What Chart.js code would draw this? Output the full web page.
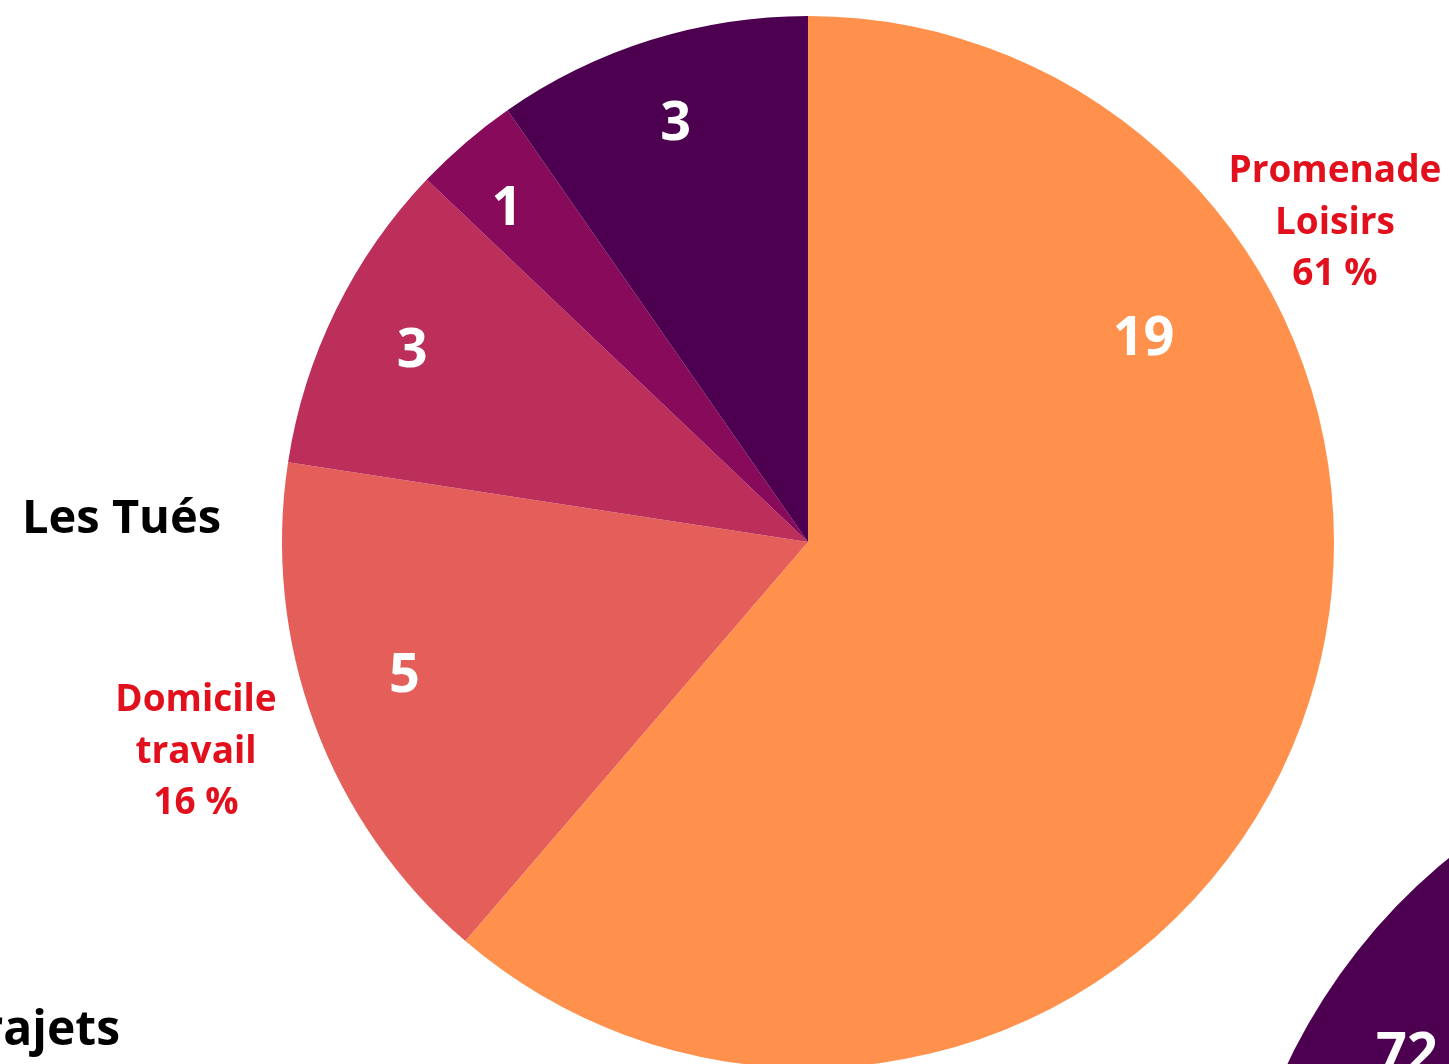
<!DOCTYPE html>
<html lang="fr">
<head>
<meta charset="utf-8">
<title>Les Tués</title>
<script src="https://cdn.jsdelivr.net/npm/chart.js@4"></script>
<style>
  html, body { margin: 0; padding: 0; background: #fff; overflow: hidden; width: 1449px; height: 1064px; }
  body { position: relative; font-family: "Open Sans", sans-serif; }
  #tues { position: absolute; left: 0; top: 0; }
  #trajets { position: absolute; left: 1229px; top: 722px; }
  .title { position: absolute; font-weight: 700; font-size: 47px; color: #000; white-space: nowrap; line-height: 1; }
  #t1 { left: 22px; top: 492px; }
  #t2 { right: 1329px; top: 1003px; font-size: 48px; }
</style>
</head>
<body>
<canvas id="tues" width="1449" height="1100"></canvas>
<canvas id="trajets" width="1200" height="1200"></canvas>
<div class="title" id="t1">Les Tués</div>
<div class="title" id="t2">Trajets</div>
<script>
// Les Tués : motif du déplacement
const motifs = ['Promenade Loisirs', 'Domicile travail', 'Motif 3', 'Motif 4', 'Motif 5'];
const tues = [19, 5, 3, 1, 3];
const couleurs = ['#FF914D', '#E45F5A', '#BC2F5B', '#870A5B', '#4D0050'];
// étiquettes rouges à l'extérieur (null = pas d'étiquette)
const etiquettes = [['Promenade', 'Loisirs'], ['Domicile', 'travail'], null, null, null];

// Trajets (seule la part visible)
const trajetsLabels = ['Trajets'];
const trajets = [72];
const trajetsCouleurs = ['#4D0050'];

const toRad = d => (d - 90) * Math.PI / 180;
const CAP = 0.714; // hauteur des capitales / chiffres d'Open Sans

const sliceLabels = {
  id: 'sliceLabels',
  afterDatasetsDraw(chart, args, opts) {
    const ctx = chart.ctx;
    const ds = chart.data.datasets[0];
    const total = ds.data.reduce((a, b) => a + b, 0);
    const meta = chart.getDatasetMeta(0);
    ctx.save();
    ctx.textAlign = 'center';
    ctx.textBaseline = 'alphabetic';
    meta.data.forEach((arc, i) => {
      const p = arc.getProps(['x', 'y', 'startAngle', 'endAngle', 'outerRadius'], true);
      const fix = (opts.fixed || {})[i] || {};
      const midArc = (p.startAngle + p.endAngle) / 2;
      const mid = fix.angle !== undefined ? toRad(fix.angle) : midArc;
      const rv = (fix.r || opts.valueRadius) * p.outerRadius;
      const vs = 54;
      ctx.fillStyle = '#fff';
      ctx.font = 'bold ' + vs + 'px "Open Sans"';
      ctx.fillText(String(ds.data[i]), p.x + Math.cos(mid) * rv, p.y + Math.sin(mid) * rv + vs * CAP / 2);

      const lines = (opts.outer || [])[i];
      if (!lines) return;
      const oa = fix.outerAngle !== undefined ? toRad(fix.outerAngle) : midArc;
      const ro = (fix.outerR || opts.outerRadius) * p.outerRadius;
      const cx = p.x + Math.cos(oa) * ro;
      const cy = p.y + Math.sin(oa) * ro;
      const all = lines.concat([Math.round(ds.data[i] / total * 100) + ' %']);
      const os = 37, lh = 51.5;
      ctx.fillStyle = '#E2101C';
      ctx.font = 'bold ' + os + 'px "Open Sans"';
      all.forEach((t, k) => {
        ctx.fillText(t, cx, cy + (k - (all.length - 1) / 2) * lh + os * CAP / 2);
      });
    });
    ctx.restore();
  }
};

function build() {
  new Chart(document.getElementById('tues'), {
    type: 'pie',
    data: {
      labels: motifs,
      datasets: [{ data: tues, backgroundColor: couleurs, borderWidth: 0 }]
    },
    options: {
      responsive: false,
      animation: false,
      layout: { padding: { left: 282, top: 16, right: 115, bottom: 32 } },
      plugins: {
        legend: { display: false },
        tooltip: { enabled: false },
        sliceLabels: {
          valueRadius: 0.84,
          outerRadius: 1.2,
          outer: etiquettes,
          fixed: {
            0: { angle: 58.45, r: 0.7485, outerAngle: 58.63, outerR: 1.1733 },
            1: { angle: 252.0, r: 0.8065, outerAngle: 251.25, outerR: 1.2287 },
            2: { r: 0.838 },
            3: { angle: 318.15, r: 0.8577 },
            4: { r: 0.8397 }
          }
        }
      }
    },
    plugins: [sliceLabels]
  });

  new Chart(document.getElementById('trajets'), {
    type: 'pie',
    data: {
      labels: trajetsLabels,
      datasets: [{ data: trajets, backgroundColor: trajetsCouleurs, borderWidth: 0 }]
    },
    options: {
      responsive: false,
      animation: false,
      rotation: 122.6,
      plugins: {
        legend: { display: false },
        tooltip: { enabled: false },
        sliceLabels: { valueRadius: 0.835 }
      }
    },
    plugins: [sliceLabels]
  });
}

document.fonts.load('bold 54px "Open Sans"').then(build, build);
</script>
</body>
</html>
